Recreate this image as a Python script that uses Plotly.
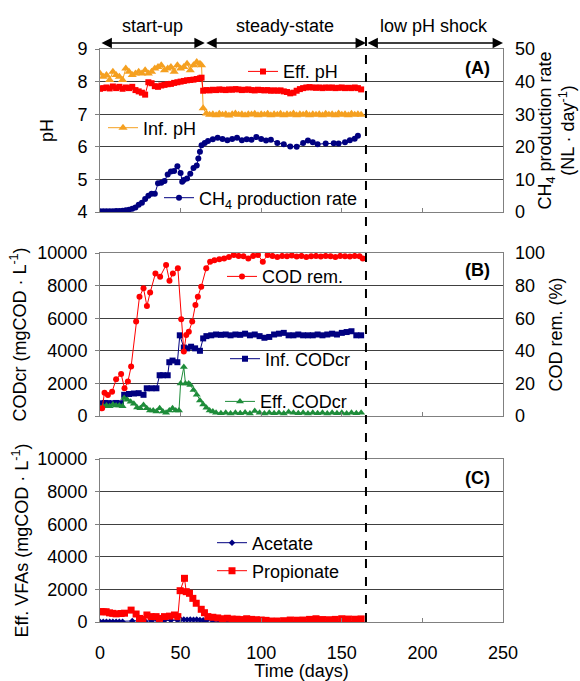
import plotly.graph_objects as go

# ---------------- DATA ----------------
# Panel A
eff_ph_days = [0,2,4,6,8,10,12,14,16,18,20,22,24,26,28,30,32,34,36,38,40,42,44,46,48,50,52,54,56,58,60,62,63,
               64,66,68,70,72,74,76,78,80,82,84,86,88,90,92,94,96,98,100,102,104,106,108,110,112,114,116,118,120,
               122,124,126,128,130,132,134,136,138,140,142,144,146,148,150,152,154,156,158,160,162]
eff_ph = [7.78,7.8,7.82,7.79,7.85,7.8,7.84,7.78,7.82,7.8,7.84,7.74,7.7,7.66,7.6,7.98,7.95,7.86,7.84,7.88,7.9,7.92,
          7.93,7.96,7.98,8.0,8.02,8.04,8.05,8.06,8.08,8.1,8.12,
          7.72,7.74,7.73,7.75,7.74,7.76,7.75,7.74,7.76,7.75,7.77,7.76,7.74,7.75,7.76,7.74,7.73,7.75,7.74,7.73,7.74,
          7.72,7.73,7.72,7.73,7.7,7.68,7.64,7.66,7.72,7.77,7.8,7.82,7.83,7.82,7.81,7.82,7.8,7.82,7.81,7.82,7.8,
          7.81,7.82,7.8,7.81,7.8,7.82,7.8,7.76]

inf_ph_days = [0,2,4,6,8,10,12,14,16,18,20,22,24,26,28,30,32,34,36,38,40,42,44,46,48,50,52,54,56,58,60,62,63,
               64,66,68,70,72,74,76,78,80,82,84,86,88,90,92,94,96,98,100,102,104,106,108,110,112,114,116,118,120,
               122,124,126,128,130,132,134,136,138,140,142,144,146,148,150,152,154,156,158,160,162]
inf_ph = [8.25,8.15,8.2,8.05,8.3,8.2,8.15,8.05,8.4,8.3,8.2,8.25,8.3,8.25,8.35,8.25,8.3,8.4,8.45,8.5,8.35,8.4,
          8.45,8.3,8.5,8.4,8.45,8.55,8.35,8.5,8.6,8.55,8.5,
          7.18,7.02,6.98,7.0,6.97,7.01,6.98,7.0,6.96,7.0,7.02,6.98,7.0,6.97,7.0,6.99,7.01,6.97,7.0,6.98,7.01,6.97,
          7.0,6.98,7.01,6.97,7.0,6.98,7.02,6.97,7.0,6.98,7.01,6.97,7.0,6.98,7.0,6.97,7.01,6.98,7.0,6.97,7.02,6.98,
          7.0,6.97,7.01,6.98,7.0,6.98]

ch4_days = [0,2,4,6,8,10,12,14,16,18,20,22,24,26,28,30,32,34,36,38,40,42,44,46,48,50,51,52,54,56,58,60,61,62,63,
            65,67,70,73,76,79,82,85,88,91,94,97,100,103,106,110,114,118,122,126,129,132,135,140,145,148,152,155,158,160]
ch4_rate = [0.2,0.2,0.2,0.2,0.2,0.3,0.3,0.4,0.5,0.7,1.0,1.4,2.2,2.8,4.0,5.0,5.6,5.6,8.8,9.0,9.5,11.5,12.4,12.6,
            14.0,12.0,9.3,9.8,10.3,11.7,13.5,14.3,16.4,18.5,20.5,
            21.2,21.8,22.3,22.8,22.4,22.0,22.4,22.8,22.0,22.3,22.2,23.0,22.4,21.9,22.2,21.2,20.8,20.1,20.0,21.2,
            21.9,21.4,20.8,21.0,21.1,21.0,21.4,22.0,22.5,23.4]

# Panel B
cod_rem_days = [1.3,2.8,4.9,7.5,10.0,13.1,15.2,17.3,19.3,22.4,24.5,27.0,29.1,31.1,34.4,37.3,41.0,43.1,45.2,48.3,
                50.4,52.0,53.5,55.1,57.2,59.2,60.7,62.8,65.9,68.3,71.0,74,77,80,83,86,89,92,95,98,101,104,107,110,
                113,116,119,122,125,128,131,134,137,140,143,146,149,152,155,158,161,163]
cod_rem = [4.7,14.3,12.9,14.9,22.5,25.8,17.0,21.1,30.3,57.9,73.2,78.3,67.5,75.7,87.5,85.5,92.6,83.0,87.5,90.6,
           59.3,39.5,49.7,51.7,57.9,68.1,73.2,79.3,90.6,94.7,95.5,96.1,96.7,97.5,98.8,98.2,98.0,96.7,98.2,98.8,
           94.7,98.8,98.2,97.5,98.2,98.0,98.5,97.8,98.2,97.5,98.0,98.2,97.8,98.2,98.0,97.5,98.2,98.0,97.8,98.2,
           98.0,96.7]

inf_cod_days = [0,3,5,8,10,13,15,18,21,24,27,29,32,35,37,39,42,43,45,48,49.5,52,54,56.5,59,62,64,66,69,72,75,78,81,
                84,87,90,93,96,99,102,105,108,111,114,117,120,123,126,129,132,135,138,141,144,147,150,153,156,159,162]
inf_cod = [780,800,790,780,800,780,1300,1350,1380,1400,1300,1700,1700,1700,2500,2500,2500,3300,3400,3300,4950,
           4200,4150,4250,4150,4000,4760,4900,4950,5000,4980,5000,4950,5000,4980,5050,4950,5000,4900,4800,4850,
           5000,5050,5100,4950,4950,5000,4950,4950,4950,5000,4950,5000,5050,5000,5100,5150,5200,4950,4950]

eff_cod_days = [0,2,4,6,8,10,12,14,15,17,19,21,23,25,27,29,31,33,35,37,39,41,43,45,47,49,50,52,53,55,56,58,60,62,
                64,66,68,70,72,75,78,81,84,87,90,93,96,99,102,105,108,111,114,117,120,123,126,129,132,135,138,141,
                144,147,150,153,156,159,162]
eff_cod = [500,600,650,600,700,650,650,600,1100,1000,880,750,520,470,680,470,330,330,270,470,270,200,330,470,330,
           330,2000,3000,2000,2000,1900,1600,1300,950,700,500,330,270,200,170,200,160,200,170,210,160,300,200,
           160,200,170,200,160,250,200,170,200,160,200,170,200,160,200,170,200,160,200,170,200]

# Panel C
prop_days = [0.7,2,3.8,5.9,7.9,10.0,13.1,15.2,19.3,22.4,24.5,26.6,29.1,31.7,34.8,36.9,40.0,43.1,46.2,48.3,49.7,
             52.4,53.5,55.5,57.6,59.7,62.8,64.8,66.9,70.0,73,76,79,82,85,88,91,94,97,100,103,106,110,114,118,122,
             126,130,134,138,142,146,150,154,158,162]
propionate = [640,620,630,560,530,500,520,540,730,490,220,160,430,330,330,220,330,360,430,330,1920,2680,1860,1760,
              1450,1150,780,570,330,290,250,200,230,180,170,150,200,160,140,120,100,60,60,80,120,110,120,160,200,
              150,140,160,200,180,170,190]

acet_days = [0,2,4,6,8,10,12,14,20,24,28,32,36,40,44,48,50,52,54,56,58,60,62,64,66,70,74,78,82,86,90,94,98,102,106,
             110,114,118,122,126,130,134,138,142,146,150,154,158,162]
acetate = [20,20,20,20,20,20,20,20,60,80,50,70,80,90,100,110,150,150,140,150,140,150,120,100,80,60,50,40,30,30,30,
           30,30,30,30,30,30,30,30,30,30,30,30,30,30,30,30,30,30]

phase_names = ["start-up", "steady-state", "low pH shock"]
phase_bounds = [0, 65, 165, 250]
shock_day = 165
x_ticks = [0, 50, 100, 150, 200, 250]

# ---------------- STYLE ----------------
FONT = "Liberation Sans, Arial, sans-serif"
RED = "#FF0000"
ORANGE = "#F5A020"
NAVY = "#000080"
GREEN = "#1E8C3A"
BORDER = "#808080"
GRID = "#404040"

fig = go.Figure()

def add(x, y, name, color, symbol, size, xa, ya, legend):
    fig.add_trace(go.Scatter(
        x=x, y=y, name=name, mode="lines+markers",
        line=dict(color=color, width=1),
        marker=dict(color=color, symbol=symbol, size=size),
        xaxis=xa, yaxis=ya, legend=legend, showlegend=True))

add(inf_ph_days, inf_ph, "Inf. pH", ORANGE, "triangle-up", 8, "x", "y", "legend2")
add(eff_ph_days, eff_ph, "Eff. pH", RED, "square", 6, "x", "y", "legend")
add(ch4_days, ch4_rate, "CH<sub>4</sub> production rate", NAVY, "circle", 6, "x", "y2", "legend3")

add(inf_cod_days, inf_cod, "Inf. CODcr", NAVY, "square", 6, "x2", "y3", "legend5")
add(eff_cod_days, eff_cod, "Eff. CODcr", GREEN, "triangle-up", 7, "x2", "y3", "legend6")
add(cod_rem_days, cod_rem, "COD rem.", RED, "circle", 6, "x2", "y4", "legend4")

add(acet_days, acetate, "Acetate", NAVY, "diamond", 5, "x3", "y5", "legend7")
add(prop_days, propionate, "Propionate", RED, "square", 7, "x3", "y5", "legend8")

PW = 403.0
L, R, T, B = 100, 77, 49, 59
PH = 681 - T - B

def px_x(px):
    return (px - L) / PW

def px_y(py):
    return (681 - B - py) / PH

dom_a = [px_y(212), 1.0]
dom_b = [px_y(416), px_y(253)]
dom_c = [0.0, px_y(459)]

tickfont = dict(family=FONT, size=18, color="black")
titlefont = dict(family=FONT, size=18, color="black")

xcommon = dict(range=[0, 250], tickvals=x_ticks, ticks="inside", ticklen=4, tickcolor=BORDER,
               showline=True, linecolor=BORDER, mirror=True, showgrid=False, zeroline=False,
               tickfont=tickfont)
ycommon = dict(ticks="outside", ticklen=4, tickcolor=BORDER, showline=True, linecolor=BORDER,
               mirror=True, showgrid=True, gridcolor=GRID, gridwidth=1, zeroline=False,
               tickfont=tickfont, ticklabelstandoff=4, tickformat="d")
yright = dict(side="right", showgrid=False, zeroline=False, showline=False, ticks="",
              tickfont=tickfont, ticklabelstandoff=11, tickformat="d")

legends = {}
leg_specs = [("legend", 243, 71.7), ("legend2", 103, 128), ("legend3", 159, 198),
             ("legend4", 222, 276.7), ("legend5", 225, 359), ("legend6", 220, 401.7),
             ("legend7", 212, 543), ("legend8", 212, 571)]
for key, lx, ly in leg_specs:
    legends[key] = dict(x=px_x(lx), y=px_y(ly), xanchor="left", yanchor="middle",
                        bgcolor="rgba(0,0,0,0)", borderwidth=0,
                        font=dict(family=FONT, size=18, color="black"), itemwidth=30)

fig.update_layout(
    width=580, height=681,
    margin=dict(l=L, r=R, t=T, b=B, autoexpand=False),
    plot_bgcolor="white", paper_bgcolor="white",
    font=dict(family=FONT, size=18, color="black"),
    xaxis=dict(domain=[0, 1], anchor="y", showticklabels=False, **xcommon),
    yaxis=dict(domain=dom_a, anchor="x", range=[4, 9], dtick=1,
               title=dict(text="pH", font=titlefont, standoff=19), **ycommon),
    yaxis2=dict(overlaying="y", anchor="x", range=[0, 50], dtick=10,
                title=dict(text="CH<sub>4</sub> production rate<br>(NL · day<sup>-1</sup>)", font=titlefont, standoff=2),
                **yright),
    xaxis2=dict(domain=[0, 1], anchor="y3", matches="x", showticklabels=False, **xcommon),
    yaxis3=dict(domain=dom_b, anchor="x2", range=[0, 10000], dtick=2000,
                title=dict(text="CODcr (mgCOD · L<sup>-1</sup>)", font=titlefont, standoff=6), **ycommon),
    yaxis4=dict(overlaying="y3", anchor="x2", range=[0, 100], dtick=20,
                title=dict(text="COD rem. (%)", font=titlefont, standoff=5), **yright),
    xaxis3=dict(domain=[0, 1], anchor="y5", matches="x", showticklabels=True, ticklabelstandoff=14,
                title=dict(text="Time (days)", font=titlefont, standoff=3), **xcommon),
    yaxis5=dict(domain=dom_c, anchor="x3", range=[0, 10000], dtick=2000,
                title=dict(text="Eff. VFAs (mgCOD · L<sup>-1</sup>)", font=titlefont, standoff=4), **ycommon),
    **legends,
)

# dashed shock line
fig.add_shape(type="line", xref="x", yref="paper", x0=shock_day, x1=shock_day, y0=0, y1=px_y(36),
              line=dict(color="black", width=2, dash="dash"))

# phase arrows and labels
arrow_y = px_y(43)
for i, name in enumerate(phase_names):
    a, b = phase_bounds[i], phase_bounds[i + 1]
    fig.add_annotation(x=b, y=arrow_y, xref="x", yref="paper", ax=a, ay=0, axref="x", ayref="pixel",
                       text="", showarrow=True, arrowside="end+start", arrowhead=2, startarrowhead=2,
                       arrowsize=1.6, startarrowsize=1.6, arrowwidth=1.3, arrowcolor="black",
                       standoff=0, startstandoff=0)
    fig.add_annotation(x=(a + b) / 2, y=px_y(26), xref="x", yref="paper", text=name, showarrow=False,
                       font=dict(family=FONT, size=18, color="black"), xanchor="center", yanchor="middle")

for lab, py in [("(A)", 68), ("(B)", 270), ("(C)", 478)]:
    fig.add_annotation(x=px_x(477), y=px_y(py), xref="paper", yref="paper", text="<b>%s</b>" % lab,
                       showarrow=False, font=dict(family=FONT, size=18, color="black"),
                       xanchor="center", yanchor="middle")

fig.write_html("out.html", config={"displayModeBar": False},
               post_script="document.body.style.margin='0px';")
